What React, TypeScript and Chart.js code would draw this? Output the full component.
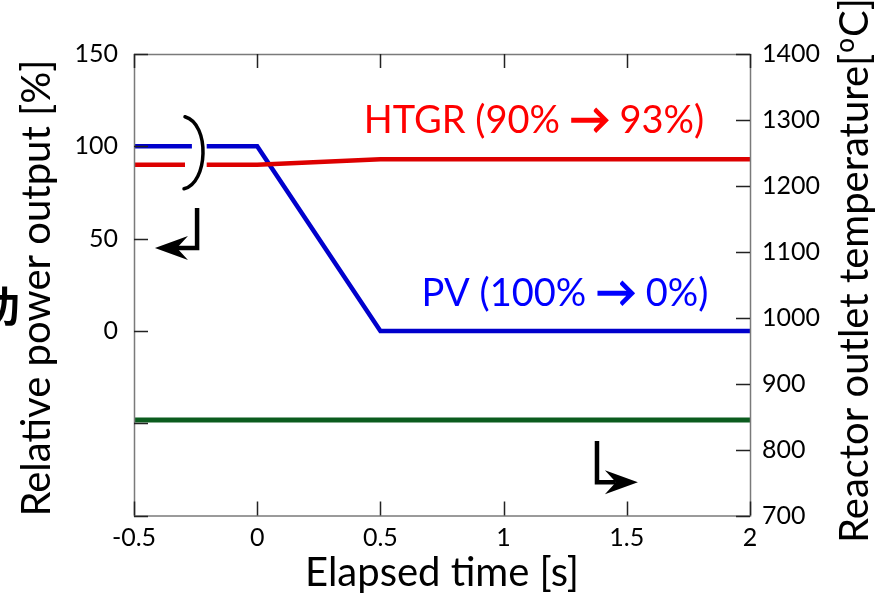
import React, { useEffect, useRef } from "react";
import { Chart, registerables } from "chart.js";

Chart.register(...registerables);

// ---- data ----
const timePoints = [-0.5, 0, 0.5, 2];
const htgrPower = [90, 90, 93, 93];
const pvPower = [100, 100, 0, 0];
const tempTimes = [-0.5, 2];
const outletTemp = [845, 845];

const xTitle = "Elapsed time [s]";
const yTitle = "Relative power output [%]";
const yRightTitleMain = "Reactor outlet temperature[";
const yRightTitleSup = "o";
const yRightTitleEnd = "C]";
const htgrLabelParts = ["HTGR (90% ", "\u2192", " 93%)"];
const pvLabelParts = ["PV (100% ", "\u2192", " 0%)"];
const cutGlyph = "功";

const FONT = "Lato, 'Open Sans', sans-serif";

const RED_LINE = "#dd0000";
const RED_TEXT = "#ff0000";
const BLUE_LINE = "#0000cc";
const BLUE_TEXT = "#0000ff";
const GREEN_LINE = "#0b5c1e";

const fmt = (v: any) => String(Math.round(Number(v) * 100) / 100);

function drawLabel(ctx: any, parts: string[], cx: number, baseline: number, color: string) {
  const fonts = [`38px ${FONT}`, `40px ${FONT}`, `38px ${FONT}`];
  let total = 0;
  const widths = parts.map((p, i) => {
    ctx.font = fonts[i];
    const w = ctx.measureText(p).width;
    total += w;
    return w;
  });
  let x = cx - total / 2;
  ctx.fillStyle = color;
  ctx.strokeStyle = color;
  ctx.textAlign = "left";
  ctx.textBaseline = "alphabetic";
  parts.forEach((p, i) => {
    ctx.font = fonts[i];
    ctx.fillText(p, x, baseline);
    if (i === 1) {
      ctx.lineWidth = 1.8;
      ctx.lineJoin = "miter";
      ctx.strokeText(p, x, baseline);
    }
    x += widths[i];
  });
}

const decorPlugin = {
  id: "decor",
  afterDatasetsDraw(chart: any) {
    const { ctx, scales } = chart;
    const sx = scales.x;
    const sy = scales.y;
    const P = (t: number, v: number) => [sx.getPixelForValue(t), sy.getPixelForValue(v)];
    ctx.save();

    // axis break gaps (white) on the power lines
    const yBlue = sy.getPixelForValue(pvPower[0]);
    const yRed = sy.getPixelForValue(htgrPower[0]);
    ctx.fillStyle = "#fff";
    const gB0 = sx.getPixelForValue(-0.265);
    const gR0 = sx.getPixelForValue(-0.293);
    const g1 = sx.getPixelForValue(-0.205);
    ctx.fillRect(gB0, yBlue - 4, g1 - gB0, 8);
    ctx.fillRect(gR0, yRed - 4, g1 - gR0, 8);

    // break parenthesis
    ctx.strokeStyle = "#000";
    ctx.lineWidth = 3.5;
    ctx.lineCap = "round";
    const p0 = P(-0.293, 116);
    const p1 = P(-0.19, 112);
    const p2 = P(-0.2, 80);
    const p3 = P(-0.297, 77);
    ctx.beginPath();
    ctx.moveTo(p0[0], p0[1]);
    ctx.bezierCurveTo(p1[0], p1[1], p2[0], p2[1], p3[0], p3[1]);
    ctx.stroke();

    // arrows
    const drawArrow = (pts: number[][], dir: number) => {
      ctx.strokeStyle = "#000";
      ctx.fillStyle = "#000";
      ctx.lineWidth = 4.5;
      ctx.lineCap = "butt";
      ctx.lineJoin = "miter";
      const tip = pts[pts.length - 1];
      const notchX = tip[0] - dir * 22;
      ctx.beginPath();
      ctx.moveTo(pts[0][0], pts[0][1]);
      for (let i = 1; i < pts.length - 1; i++) ctx.lineTo(pts[i][0], pts[i][1]);
      ctx.lineTo(notchX, tip[1]);
      ctx.stroke();
      ctx.beginPath();
      ctx.moveTo(tip[0], tip[1]);
      ctx.lineTo(tip[0] - dir * 33, tip[1] - 12);
      ctx.lineTo(tip[0] - dir * 22, tip[1]);
      ctx.lineTo(tip[0] - dir * 33, tip[1] + 12);
      ctx.closePath();
      ctx.fill();
    };
    drawArrow([P(-0.244, 66.6), P(-0.244, 44.9), P(-0.415, 44.9)], -1);
    drawArrow([P(1.379, -59.6), P(1.379, -82.0), P(1.545, -82.0)], 1);

    // annotations
    const h = P(1.123, 107.2);
    drawLabel(ctx, htgrLabelParts, h[0], h[1], RED_TEXT);
    const pv = P(1.249, 13.5);
    drawLabel(ctx, pvLabelParts, pv[0], pv[1], BLUE_TEXT);

    ctx.restore();
  },
  afterDraw(chart: any) {
    const { ctx, chartArea: a, scales } = chart;
    ctx.save();
    // frame
    ctx.strokeStyle = "#7a7a7a";
    ctx.lineWidth = 1.5;
    ctx.strokeRect(a.left + 0.5, a.top + 0.5, a.right - a.left, a.bottom - a.top);
    // inward ticks
    ctx.strokeStyle = "#222";
    ctx.lineWidth = 1.5;
    const TL = 14;
    ctx.beginPath();
    scales.x.ticks.forEach((t: any) => {
      const px = Math.round(scales.x.getPixelForValue(t.value)) + 0.5;
      ctx.moveTo(px, a.bottom);
      ctx.lineTo(px, a.bottom - TL);
      ctx.moveTo(px, a.top);
      ctx.lineTo(px, a.top + TL);
    });
    scales.y.ticks.forEach((t: any) => {
      const py = Math.round(scales.y.getPixelForValue(t.value)) + 0.5;
      ctx.moveTo(a.left, py);
      ctx.lineTo(a.left + TL, py);
    });
    scales.yT.ticks.forEach((t: any) => {
      const py = Math.round(scales.yT.getPixelForValue(t.value)) + 0.5;
      ctx.moveTo(a.right, py);
      ctx.lineTo(a.right - TL, py);
    });
    ctx.stroke();

    // axis titles
    ctx.fillStyle = "#000";
    ctx.font = `40px ${FONT}`;
    ctx.textBaseline = "alphabetic";
    ctx.textAlign = "center";
    ctx.fillText(xTitle, (a.left + a.right) / 2, 586);

    ctx.save();
    ctx.translate(50, 288);
    ctx.rotate(-Math.PI / 2);
    ctx.textAlign = "center";
    ctx.fillText(yTitle, 0, 0);
    ctx.restore();

    ctx.save();
    ctx.translate(868, 543);
    ctx.rotate(-Math.PI / 2);
    ctx.textAlign = "left";
    ctx.font = `40px ${FONT}`;
    ctx.fillText(yRightTitleMain, 0, 0);
    let off = ctx.measureText(yRightTitleMain).width + 1;
    ctx.font = `26px ${FONT}`;
    ctx.fillText(yRightTitleSup, off, -14);
    off += ctx.measureText(yRightTitleSup).width + 1;
    ctx.font = `40px ${FONT}`;
    ctx.fillText(yRightTitleEnd, off, 0);
    ctx.restore();

    // clipped glyph at the left edge
    ctx.font = `bold 42px 'Noto Sans CJK SC'`;
    ctx.textAlign = "left";
    ctx.fillText(cutGlyph, -22, 322);

    ctx.restore();
  },
};

export default function App() {
  const ref = useRef<HTMLCanvasElement>(null);
  useEffect(() => {
    if (!ref.current) return;
    const tickFont = { family: FONT, size: 25 };
    const chart = new Chart(ref.current, {
      type: "line",
      data: {
        datasets: [
          {
            label: "HTGR",
            data: timePoints.map((t, i) => ({ x: t, y: htgrPower[i] })),
            borderColor: RED_LINE,
            borderWidth: 4.5,
            pointRadius: 0,
            yAxisID: "y",
          },
          {
            label: "PV",
            data: timePoints.map((t, i) => ({ x: t, y: pvPower[i] })),
            borderColor: BLUE_LINE,
            borderWidth: 4.5,
            pointRadius: 0,
            yAxisID: "y",
          },
          {
            label: "Reactor outlet temperature",
            data: tempTimes.map((t, i) => ({ x: t, y: outletTemp[i] })),
            borderColor: GREEN_LINE,
            borderWidth: 5,
            pointRadius: 0,
            yAxisID: "yT",
          },
        ],
      },
      options: {
        responsive: false,
        animation: false,
        devicePixelRatio: 1,
        layout: { padding: { top: 54, left: 0, right: 0, bottom: 0 } },
        plugins: { legend: { display: false }, tooltip: { enabled: false } },
        elements: { line: { tension: 0 } },
        scales: {
          x: {
            type: "linear",
            min: -0.5,
            max: 2,
            grid: { display: false, drawTicks: false },
            border: { display: false },
            ticks: { stepSize: 0.5, font: tickFont, color: "#000", padding: 7, maxRotation: 0, callback: fmt },
            afterFit: (s: any) => {
              s.height = 81.5;
            },
          },
          y: {
            type: "linear",
            position: "left",
            min: -100,
            max: 150,
            grid: { display: false, drawTicks: false },
            border: { display: false },
            ticks: {
              stepSize: 50,
              font: tickFont,
              color: "#000",
              padding: 16,
              callback: (v: any) => (v >= 0 ? fmt(v) : ""),
            },
            afterFit: (s: any) => {
              s.width = 134;
            },
          },
          yT: {
            type: "linear",
            position: "right",
            min: 700,
            max: 1400,
            grid: { display: false, drawTicks: false },
            border: { display: false },
            ticks: { stepSize: 100, font: tickFont, color: "#000", padding: 12, callback: fmt },
            afterFit: (s: any) => {
              s.width = 136;
            },
          },
        },
      },
      plugins: [decorPlugin],
    } as any);
    return () => chart.destroy();
  }, []);
  return (
    <div style={{ position: "absolute", left: 0, top: 0, width: 886, height: 597, background: "#fff" }}>
      <canvas ref={ref} width={886} height={597} />
    </div>
  );
}
